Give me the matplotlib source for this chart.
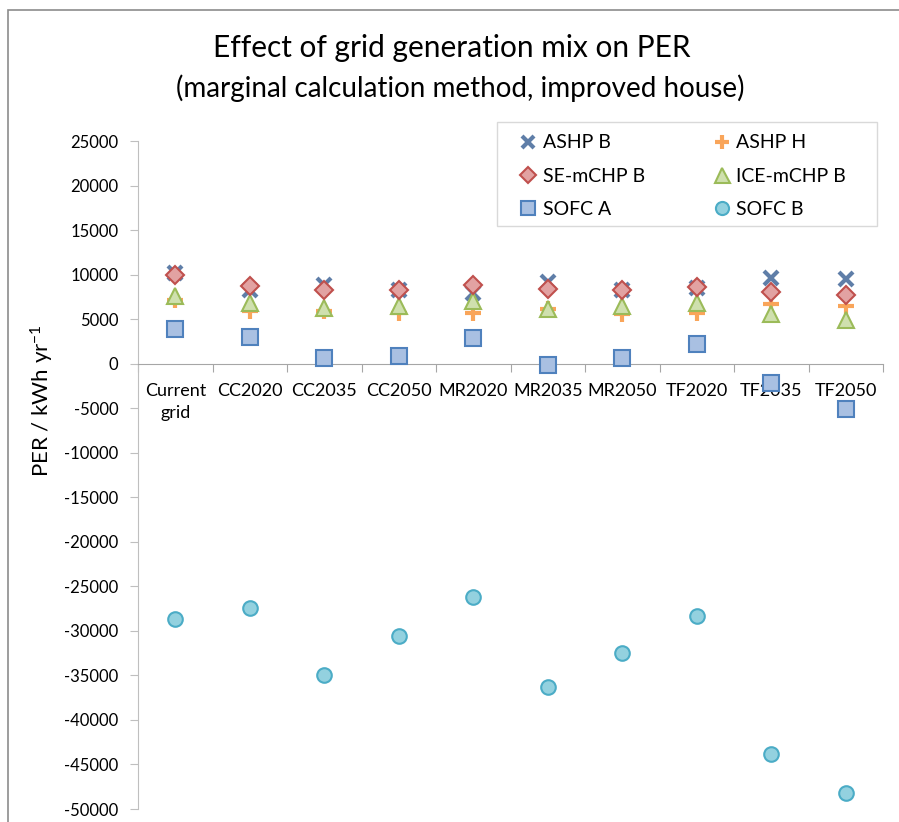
import matplotlib
matplotlib.use("Agg")
import matplotlib.pyplot as plt
from matplotlib.patches import Rectangle
from matplotlib.ticker import FixedLocator, NullFormatter
import numpy as np

plt.rcParams['font.family'] = ['Lato', 'DejaVu Sans']
plt.rcParams['mathtext.fontset'] = 'custom'
plt.rcParams['mathtext.rm'] = 'Lato'
plt.rcParams['mathtext.default'] = 'regular'

categories = ["Current\ngrid", "CC2020", "CC2035", "CC2050", "MR2020",
              "MR2035", "MR2050", "TF2020", "TF2035", "TF2050"]

ashp_b = [10170, 8300, 8860, 8290, 7990, 9150, 8290, 8480, 9600, 9490]
ashp_h = [7170, 5860, 5940, 5680, 5680, 6100, 5600, 5680, 6690, 6500]
se_mchp_b = [9980, 8740, 8300, 8220, 8780, 8370, 8220, 8590, 8100, 7730]
ice_mchp_b = [7550, 6800, 6240, 6430, 6990, 6130, 6430, 6800, 5570, 4930]
sofc_a = [3920, 2990, 640, 900, 2880, -110, 640, 2200, -2170, -5080]
sofc_b = [-28700, -27460, -34980, -30600, -26230, -36320, -32510, -28360, -43830, -48200]

yticks = list(range(-50000, 25001, 5000))

W, H = 899, 822
fig = plt.figure(figsize=(W / 100, H / 100), dpi=100)

# outer chart border
fig.add_artist(Rectangle((8 / W, -0.01), 1.0, 1 - 10 / H + 0.01, transform=fig.transFigure,
                         fill=False, edgecolor='#8c8c8c', linewidth=1.2))

ax_left, ax_right, ax_top, ax_bottom = 138, 883, 141, 809
ax = fig.add_axes([ax_left / W, 1 - ax_bottom / H, (ax_right - ax_left) / W, (ax_bottom - ax_top) / H])

x = np.arange(len(categories))

h_ab, = ax.plot(x, ashp_b, linestyle='none', marker='x', markersize=10, markeredgewidth=3,
                color='#5f7ea8', label='ASHP B', zorder=3)
h_ah, = ax.plot(x, ashp_h, linestyle='none', marker='+', markersize=11, markeredgewidth=3,
                color='#f9a55a', label='ASHP H', zorder=3)
h_se, = ax.plot(x, se_mchp_b, linestyle='none', marker='D', markersize=9, markeredgewidth=1.5,
                markerfacecolor='#e2a2a2', markeredgecolor='#c0504d', label='SE-mCHP B', zorder=4)
h_ice, = ax.plot(x, ice_mchp_b, linestyle='none', marker='^', markersize=12, markeredgewidth=1.5,
                 markerfacecolor='#cfe0ae', markeredgecolor='#9bbb59', label='ICE-mCHP B', zorder=3)
h_sa, = ax.plot(x, sofc_a, linestyle='none', marker='s', markersize=11, markeredgewidth=1.5,
                markerfacecolor='#a9c0e2', markeredgecolor='#4f81bd', label='SOFC A', zorder=3)
h_sb, = ax.plot(x, sofc_b, linestyle='none', marker='o', markersize=10.5, markeredgewidth=1.5,
                markerfacecolor='#93d1df', markeredgecolor='#4bacc6', label='SOFC B', zorder=3)

ax.set_xlim(-0.5, len(categories) - 0.5)
ax.set_ylim(-50000, 25000)
ax.set_yticks(yticks)
ax.set_yticklabels([str(v) for v in yticks])

ax.spines['top'].set_visible(False)
ax.spines['right'].set_visible(False)
ax.spines['bottom'].set_position(('data', 0))
ax.spines['bottom'].set_color('#a6a6a6')
ax.spines['left'].set_color('#bfbfbf')

ax.xaxis.set_major_locator(FixedLocator(np.arange(-0.5, len(categories), 1.0)))
ax.xaxis.set_major_formatter(NullFormatter())
ax.xaxis.set_minor_locator(FixedLocator(x))
ax.set_xticklabels(categories, minor=True)
ax.tick_params(axis='x', which='major', direction='out', length=6, color='#a6a6a6')
ax.tick_params(axis='x', which='minor', length=0, pad=14, labelsize=13)
ax.tick_params(axis='y', which='major', direction='out', length=6, color='#bfbfbf',
               labelsize=12, pad=8)
for lbl in ax.get_xticklabels(minor=True):
    lbl.set_multialignment('center')
    lbl.set_verticalalignment('top')
    lbl.set_linespacing(1.45)

fig.text(42 / W, 1 - 401 / H, r'PER / kWh yr$^{-1}$', rotation=90, ha='center', va='center',
         fontsize=16)

fig.text(452 / W, 1 - 48 / H, 'Effect of grid generation mix on PER', ha='center', va='center',
         fontsize=21.5)
fig.text(460 / W, 1 - 88 / H, '(marginal calculation method, improved house)', ha='center',
         va='center', fontsize=20)

# legend frame drawn separately
fig.add_artist(Rectangle((497 / W, 1 - 226 / H), (877 - 497) / W, (226 - 122) / H,
                         transform=fig.transFigure, facecolor='white', edgecolor='#d9d9d9',
                         linewidth=1.0, zorder=5))

handles = [h_ab, h_se, h_sa, h_ah, h_ice, h_sb]
leg = fig.legend(handles=handles, labels=[h.get_label() for h in handles], ncol=2,
                 loc='upper left', bbox_to_anchor=(516.5 / W, 1 - 134.5 / H),
                 bbox_transform=fig.transFigure, frameon=False, fontsize=14,
                 handletextpad=0.15, columnspacing=3.35, labelspacing=0.83, borderpad=0.0,
                 borderaxespad=0, handlelength=1.2, markerscale=0.9)
leg.set_zorder(6)

fig.savefig('out.png', dpi=100)
